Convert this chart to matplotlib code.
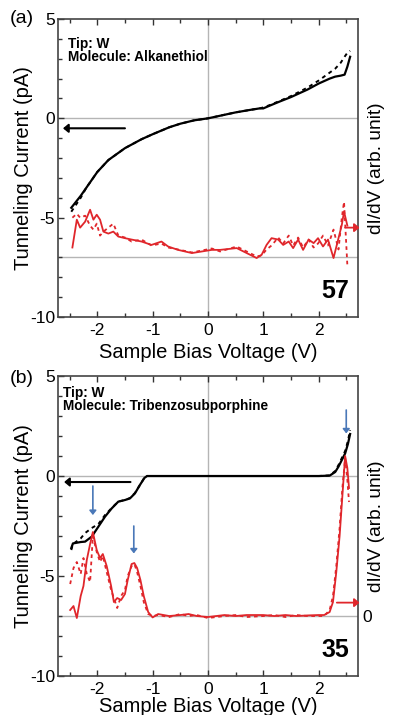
import matplotlib

matplotlib.use("Agg")

import matplotlib.pyplot as plt
from matplotlib.ticker import MultipleLocator

plt.rcParams["font.family"] = ["Liberation Sans", "DejaVu Sans"]
plt.rcParams["axes.unicode_minus"] = False

# ---- panel (a): alkanethiol ----
va_iv = [-2.47, -2.3, -2.2, -2.0, -1.8, -1.5, -1.2, -1.0, -0.7, -0.5, -0.25, 0.0,
         0.25, 0.5, 0.75, 0.93, 1.0, 1.1, 1.3, 1.5, 1.8, 2.0, 2.2, 2.3, 2.4, 2.47,
         2.52, 2.57]
ia_solid = [-4.5, -3.9, -3.5, -2.7, -2.1, -1.5, -1.05, -0.8, -0.45, -0.27, -0.1, 0.0,
            0.15, 0.3, 0.42, 0.5, 0.5, 0.62, 0.85, 1.07, 1.45, 1.75, 2.0, 2.1, 2.15,
            2.2, 2.6, 3.1]
ia_dash = [-4.7, -4.0, -3.5, -2.7, -2.1, -1.5, -1.05, -0.8, -0.45, -0.27, -0.1, 0.0,
           0.15, 0.3, 0.42, 0.5, 0.55, 0.65, 0.88, 1.12, 1.55, 1.9, 2.3, 2.5, 2.8,
           3.1, 3.3, 3.4]

va_didv = [-2.45, -2.37, -2.31, -2.22, -2.13, -2.07, -2.01, -1.95, -1.89, -1.8, -1.71,
           -1.62, -1.5, -1.38, -1.2, -1.02, -0.84, -0.72, -0.54, -0.29, -0.11, 0.07,
           0.22, 0.52, 0.7, 0.88, 0.97, 1.06, 1.15, 1.27, 1.36, 1.46, 1.54, 1.63,
           1.72, 1.82, 1.91, 1.99, 2.08, 2.17, 2.27, 2.36, 2.42, 2.46, 2.52]
da_solid = [-6.5, -5.1, -5.5, -5.2, -4.6, -5.1, -4.85, -5.1, -5.7, -5.8, -5.7,
            -5.95, -6.03, -6.1, -6.2, -6.37, -6.2, -6.45, -6.62, -6.78, -6.7, -6.62,
            -6.62, -6.53, -6.78, -7.03, -6.87, -6.37, -6.03, -6.1, -6.37, -6.2, -6.53,
            -6.1, -6.62, -6.1, -6.28, -6.03, -6.45, -6.1, -7.03, -6.03, -5.36, -4.69,
            -5.4]
da_dash = [-5.0, -4.8, -5.0, -4.9, -5.4, -5.6, -5.3, -5.9, -5.7, -5.5, -5.3,
           -5.9, -6.0, -6.2, -6.1, -6.4, -6.3, -6.5, -6.6, -6.75, -6.65, -6.55,
           -6.7, -6.45, -6.7, -6.95, -6.9, -6.6, -6.4, -6.0, -6.3, -5.9, -6.4,
           -6.0, -6.5, -6.1, -6.5, -6.3, -5.9, -6.4, -5.6, -6.6, -5.0, -4.2,
           -7.4]

# ---- panel (b): tribenzosubporphine ----
vb_iv = [-2.47, -2.44, -2.3, -2.22, -2.1, -1.98, -1.86, -1.74, -1.62, -1.5, -1.41,
         -1.32, -1.23, -1.15, -1.1, -0.8, 0.0, 1.0, 2.0, 2.2, 2.3, 2.36, 2.42, 2.48,
         2.53, 2.57]
ib_solid = [-3.6, -3.37, -3.3, -3.28, -3.03, -2.53, -2.03, -1.62, -1.28, -1.2, -1.12,
            -0.87, -0.45, -0.1, 0.0, 0.0, 0.0, 0.0, 0.0, 0.02, 0.2, 0.47, 0.8, 1.13,
            1.6, 2.1]
ib_dash = [-3.7, -3.4, -3.12, -2.85, -2.6, -2.4, -1.95, -1.6, -1.28, -1.2, -1.1,
           -0.85, -0.45, -0.1, 0.0, 0.0, 0.0, 0.0, 0.0, 0.03, 0.25, 0.55, 0.9, 1.25,
           1.75, 2.3]

vb_didv = [-2.49, -2.43, -2.37, -2.3, -2.25, -2.19, -2.13, -2.08, -2.01, -1.95, -1.9,
           -1.83, -1.75, -1.7, -1.64, -1.57, -1.5, -1.45, -1.38, -1.33, -1.28, -1.22,
           -1.16, -1.08, -1.0, -0.9, -0.7, -0.5, -0.35, -0.2, 0.0, 0.3, 0.5, 0.7, 1.0,
           1.2, 1.4, 1.6, 1.8, 2.0, 2.1, 2.2, 2.26, 2.32, 2.38, 2.43, 2.48, 2.52, 2.55]
db_solid = [-6.7, -6.5, -7.1, -6.0, -5.5, -4.2, -3.4, -2.8, -3.7, -4.1, -3.9,
            -4.5, -5.5, -6.3, -6.1, -6.2, -5.9, -5.2, -4.4, -4.35, -4.6, -5.2,
            -6.0, -6.8, -7.07, -6.9, -7.0, -6.95, -6.9, -7.0, -7.05, -6.95, -7.0,
            -6.95, -6.95, -7.0, -6.95, -7.0, -6.97, -6.95, -6.95, -6.8, -6.3, -4.8,
            -3.0, -1.0, 1.0, 0.4, -0.6]
db_dash = [-5.4, -4.6, -4.3, -4.9, -4.1, -4.9, -5.3, -3.0, -3.8, -4.3, -4.0,
           -4.8, -5.7, -6.1, -6.6, -6.0, -5.7, -5.0, -4.5, -4.4, -4.8, -5.5,
           -6.3, -6.9, -7.0, -6.95, -7.05, -6.9, -7.0, -6.95, -7.1, -7.0, -6.95,
           -7.05, -7.0, -6.95, -7.05, -6.95, -7.0, -7.0, -7.0, -6.7, -6.0, -4.5,
           -2.6, -0.6, 0.9, -0.2, -1.3]

RED = "#e0262b"
BLUE = "#4a78b8"
GRID = "#b5b5b5"

fig = plt.figure(figsize=(3.93, 7.15), dpi=100)
ax_a = fig.add_axes([0.1476, 0.5566, 0.763, 0.4168])
ax_b = fig.add_axes([0.1476, 0.0545, 0.763, 0.4196])


def style(ax, xpad):
    ax.set_xlim(-2.71, 2.71)
    ax.set_ylim(-10, 5)
    ax.axhline(0, color=GRID, lw=1.0, zorder=0)
    ax.axhline(-7, color=GRID, lw=1.0, zorder=0)
    ax.axvline(0, color=GRID, lw=1.0, zorder=0)
    ax.xaxis.set_major_locator(MultipleLocator(1))
    ax.xaxis.set_minor_locator(MultipleLocator(0.5))
    ax.yaxis.set_major_locator(MultipleLocator(5))
    ax.yaxis.set_minor_locator(MultipleLocator(1))
    ax.tick_params(which="both", direction="in", top=True, right=False,
                   labelsize=12.5, pad=2, color="#333333")
    ax.tick_params(axis="x", which="both", pad=4)
    ax.tick_params(which="major", length=4.5, width=1.0)
    ax.tick_params(which="minor", length=3, width=1.0)
    for s in ax.spines.values():
        s.set_color("#444444")
        s.set_linewidth(1.2)
    ax.set_xlabel("Sample Bias Voltage (V)", fontsize=14.5, labelpad=xpad)
    ax.set_ylabel("Tunneling Current (pA)", fontsize=14.5)
    ax.yaxis.set_label_coords(-0.083, 0.5)
    tw = ax.twinx()
    tw.set_ylim(-10, 5)
    tw.set_ylabel("dI/dV (arb. unit)", fontsize=13.8)
    tw.yaxis.set_label_coords(1.035, 0.5)
    tw.tick_params(axis="y", length=0, labelsize=12.5, pad=3)
    tw.spines[:].set_visible(False)
    return tw


def arrow(ax, x0, y0, x1, y1, color, lw=1.5, hw=5, hl=6):
    ax.annotate("", xy=(x1, y1), xytext=(x0, y0), annotation_clip=False,
                arrowprops=dict(arrowstyle="-|>,head_width=%g,head_length=%g" % (hw / 20, hl / 20),
                                color=color, lw=lw, shrinkA=0, shrinkB=0))


# panel (a)
tw_a = style(ax_a, 4)
tw_a.set_yticks([])
ax_a.plot(va_iv, ia_dash, color="black", lw=1.4, ls=(0, (2, 2)))
ax_a.plot(va_iv, ia_solid, color="black", lw=1.6)
ax_a.plot(va_didv, da_dash, color=RED, lw=1.3, ls=(0, (2, 2)))
ax_a.plot(va_didv, da_solid, color=RED, lw=1.3)
arrow(ax_a, -1.5, -0.5, -2.62, -0.5, "black")
arrow(ax_a, 2.48, -5.5, 2.74, -5.5, RED, lw=1.3)
ax_a.text(-2.53, 4.1, "Tip: W\nMolecule: Alkanethiol", fontsize=9.8,
          fontweight="bold", va="top", ha="left", linespacing=0.95)
ax_a.text(2.55, -8.7, "57", fontsize=18, fontweight="bold", ha="right", va="center")
fig.text(0.025, 0.974, "(a)", fontsize=14, va="center", ha="left")

# panel (b)
tw_b = style(ax_b, 0.5)
tw_b.set_yticks([-7])
tw_b.set_yticklabels(["0"])
ax_b.plot(vb_iv, ib_dash, color="black", lw=1.4, ls=(0, (2, 2)))
ax_b.plot(vb_iv, ib_solid, color="black", lw=1.6)
ax_b.plot(vb_didv, db_dash, color=RED, lw=1.3, ls=(0, (2, 2)))
ax_b.plot(vb_didv, db_solid, color=RED, lw=1.3)
arrow(ax_b, -1.4, -0.3, -2.6, -0.3, "black")
arrow(ax_b, 2.33, -6.33, 2.74, -6.33, RED, lw=1.3)
arrow(ax_b, -2.08, -0.5, -2.08, -1.95, BLUE, lw=1.2, hw=4, hl=5)
arrow(ax_b, -1.34, -2.5, -1.34, -3.87, BLUE, lw=1.2, hw=4, hl=5)
arrow(ax_b, 2.5, 3.3, 2.5, 2.13, BLUE, lw=1.2, hw=4, hl=5)
ax_b.text(-2.62, 4.5, "Tip: W\nMolecule: Tribenzosubporphine", fontsize=9.8,
          fontweight="bold", va="top", ha="left", linespacing=0.95)
ax_b.text(2.55, -8.7, "35", fontsize=18, fontweight="bold", ha="right", va="center")
fig.text(0.025, 0.471, "(b)", fontsize=14, va="center", ha="left")

fig.savefig("out.png", dpi=100)
plt.close(fig)
